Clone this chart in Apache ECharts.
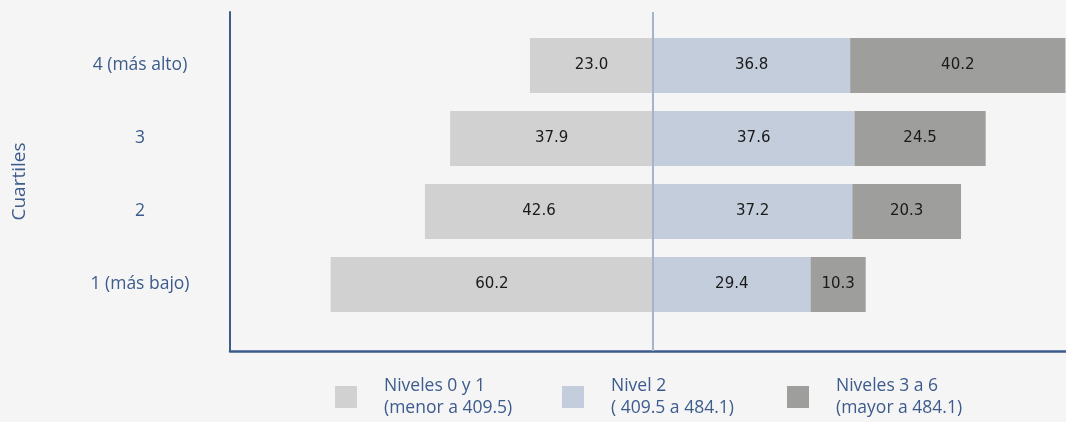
<!DOCTYPE html>
<html>
<head>
<meta charset="utf-8">
<script src="https://cdn.jsdelivr.net/npm/echarts@6/dist/echarts.min.js"></script>
<style>
  html, body { margin: 0; padding: 0; background: #f5f5f5; }
  #chart { width: 1066px; height: 422px; }
</style>
</head>
<body>
<div id="chart"></div>
<script>
// Cuartiles, bottom to top
const categories = ['1 (más bajo)', '2', '3', '4 (más alto)'];

// Percent of students per performance band in each quartile
const niveles01 = [60.2, 42.6, 37.9, 23.0];
const nivel2 = [29.4, 37.2, 37.6, 36.8];
const niveles36 = [10.3, 20.3, 24.5, 40.2];

const seriesNames = ['Niveles 0 y 1', 'Nivel 2', 'Niveles 3 a 6'];
const legendRanges = ['(menor a 409.5)', '( 409.5 a 484.1)', '(mayor a 484.1)'];

const colors = ['#d1d1d1', '#c4cddb', '#9e9e9c'];
const axisBlue = '#3d5b8c';
const textFont = 'Open Sans';

// horizontal extent of the value axis (left side holds the negated band)
const xMin = -79;
const xMax = 77.1;

const chart = echarts.init(document.getElementById('chart'), null, { renderer: 'canvas' });

const barLabel = {
  show: true,
  position: 'inside',
  color: '#1a1a1a',
  fontFamily: 'DejaVu Sans',
  fontSize: 15,
  formatter: p => Math.abs(p.value).toFixed(1)
};

function legendAt(i, left) {
  return {
    left: left,
    top: 370,
    orient: 'horizontal',
    data: [seriesNames[i]],
    icon: 'rect',
    itemWidth: 22,
    itemHeight: 22,
    selectedMode: false,
    formatter: name => name + '\n' + legendRanges[seriesNames.indexOf(name)],
    textStyle: {
      color: axisBlue,
      fontFamily: textFont,
      fontSize: 17.5,
      lineHeight: 22,
      padding: [0, 0, 0, 22]
    }
  };
}

const option = {
  backgroundColor: '#f5f5f5',
  animation: false,
  grid: [
    // frame: axis lines and the zero line
    { left: 230, right: 0, top: 12, bottom: 71 },
    // bars
    { left: 230, right: 0, top: 29, height: 292 }
  ],
  xAxis: [
    {
      gridIndex: 0, type: 'value', min: xMin, max: xMax,
      axisLine: { show: true, onZero: false, lineStyle: { color: axisBlue, width: 2.5 } },
      axisTick: { show: false }, axisLabel: { show: false }, splitLine: { show: false }
    },
    {
      gridIndex: 1, type: 'value', min: xMin, max: xMax, show: false
    }
  ],
  yAxis: [
    {
      gridIndex: 0, type: 'value', min: 0, max: 1,
      name: 'Cuartiles', nameLocation: 'middle', nameRotate: 90, nameGap: 201,
      nameTextStyle: { color: axisBlue, fontFamily: textFont, fontSize: 19 },
      axisLine: { show: true, onZero: false, lineStyle: { color: axisBlue, width: 2 } },
      axisTick: { show: false }, axisLabel: { show: false }, splitLine: { show: false }
    },
    {
      gridIndex: 1, type: 'category', data: categories,
      axisLine: { show: false }, axisTick: { show: false },
      axisLabel: {
        color: axisBlue, fontFamily: textFont, fontSize: 17.5,
        align: 'center', margin: 90
      }
    }
  ],
  legend: [legendAt(0, 330), legendAt(1, 557), legendAt(2, 782)],
  series: [
    {
      name: seriesNames[0], type: 'bar', stack: 'total',
      xAxisIndex: 1, yAxisIndex: 1, barWidth: 55,
      itemStyle: { color: colors[0] }, label: barLabel,
      data: niveles01.map(v => -v)
    },
    {
      name: seriesNames[1], type: 'bar', stack: 'total',
      xAxisIndex: 1, yAxisIndex: 1, barWidth: 55,
      itemStyle: { color: colors[1] }, label: barLabel,
      data: nivel2
    },
    {
      name: seriesNames[2], type: 'bar', stack: 'total',
      xAxisIndex: 1, yAxisIndex: 1, barWidth: 55,
      itemStyle: { color: colors[2] }, label: barLabel,
      data: niveles36
    },
    {
      // zero line across the full plot height
      name: 'cero', type: 'line', xAxisIndex: 0, yAxisIndex: 0, z: 5,
      data: [],
      markLine: {
        silent: true, symbol: 'none', label: { show: false },
        lineStyle: { color: '#a4b4cc', width: 2, type: 'solid' },
        data: [{ xAxis: 0 }]
      }
    }
  ]
};

chart.setOption(option);
</script>
</body>
</html>
